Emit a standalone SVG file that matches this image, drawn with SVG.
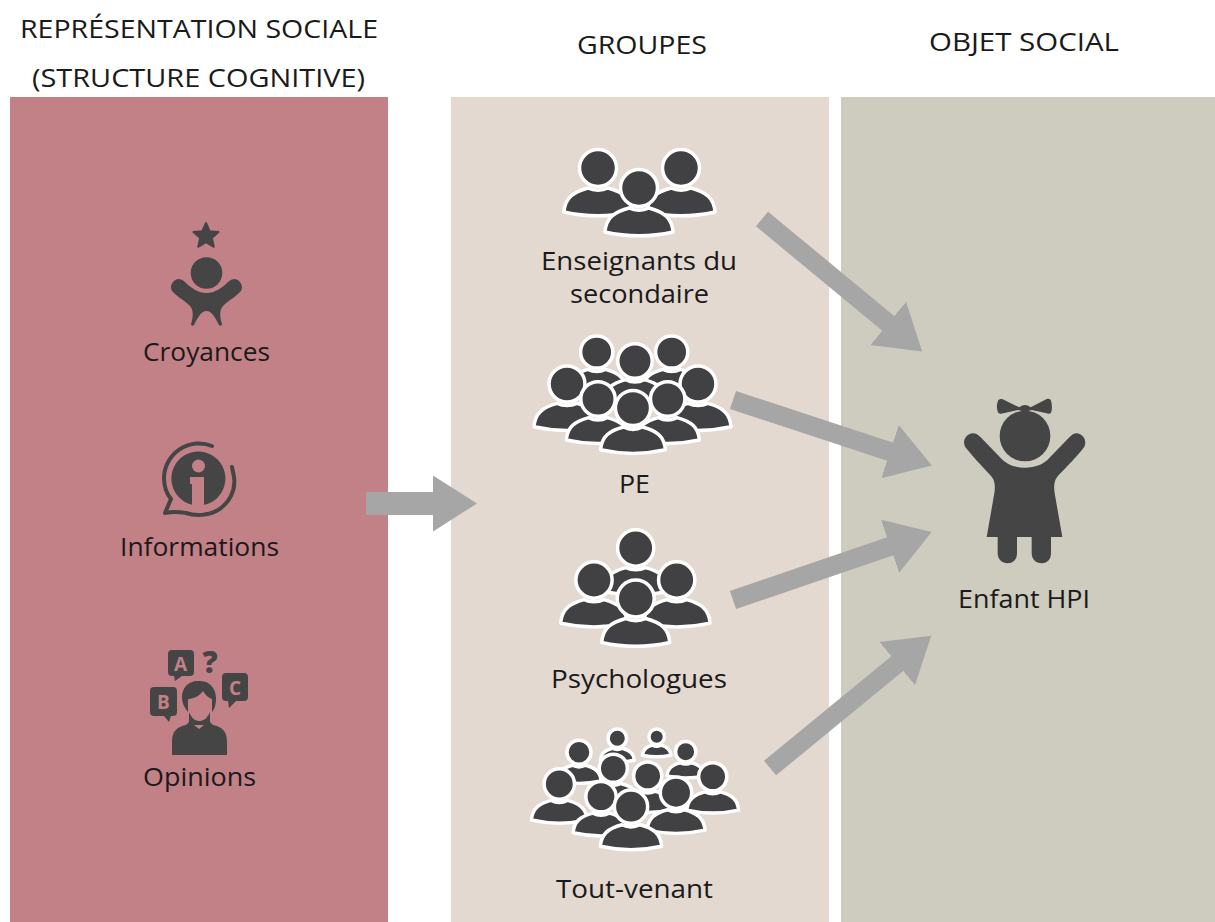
<svg xmlns="http://www.w3.org/2000/svg" width="1215" height="922" viewBox="0 0 1215 922">
<style>
text{font-family:"Open Sans","Noto Sans",sans-serif;font-size:26px;fill:#1a1a1a;dominant-baseline:alphabetic}
.ic{fill:#454545}
.p{fill:#414042;stroke:#fff;stroke-width:3.5px;vector-effect:non-scaling-stroke;stroke-linejoin:round}
.conn{stroke:#a6a6a6;fill:none;stroke-width:19;marker-end:url(#ah)}
.lt{font-family:"Open Sans",sans-serif;font-weight:700;fill:#c28087;font-size:19px;text-anchor:middle}
</style>
<defs>
<marker id="ah" markerUnits="userSpaceOnUse" markerWidth="46" markerHeight="60" refX="1" refY="30" orient="auto"><path d="M0,2L44,30L0,58Z" fill="#a6a6a6"/></marker>
<g id="q"><path class="p" d="M-34,44C-33,30-25,24-10,20C-4,23 4,23 10,20C25,24 33,30 34,44C12,49-12,49-34,44Z"/><circle class="p" r="18.5"/></g>
</defs>
<rect x="10" y="97" width="378" height="825" fill="#c28087"/>
<rect x="451" y="97" width="378" height="825" fill="#e3d9d0"/>
<rect x="841" y="97" width="374" height="825" fill="#cecbbf"/>
<g id="titles">
<text x="20" y="38" textLength="358" lengthAdjust="spacingAndGlyphs">REPRÉSENTATION SOCIALE</text>
<text x="32" y="87" textLength="333" lengthAdjust="spacingAndGlyphs">(STRUCTURE COGNITIVE)</text>
<text x="577" y="54" textLength="130" lengthAdjust="spacingAndGlyphs">GROUPES</text>
<text x="929" y="51" textLength="190" lengthAdjust="spacingAndGlyphs">OBJET SOCIAL</text>
</g>
<g id="connectors">
<path d="M366,503.500H434" class="conn" style="stroke-width:23"/>
<path d="M762,219L889,324" class="conn"/>
<path d="M733,400L891,452" class="conn"/>
<path d="M733,600L891,546" class="conn"/>
<path d="M770,768L898,663" class="conn"/>
</g>
<g id="croyances">
<path class="ic" d="M206,223L209.600,231.200L218.500,232L211.800,238L213.800,246.800L206,242.200L198.200,246.800L200.200,238L193.500,232L202.400,231.200Z" stroke="#454545" stroke-width="2" stroke-linejoin="round"/>
<circle class="ic" cx="206.500" cy="273" r="15.800"/>
<path class="ic" d="M178,279C181,279 183,280 185,282C191,288 198,293 206.500,293C215,293 222,288 228,282C230,280 232,279 235,279C240,280 244,286 241,291C238,295 228,301 223,306C219,310 220,318 222,324C222,326 220,326 219,325C216,319 212,311 206.500,311C201,311 197,319 194,325C193,326 191,326 191,324C193,318 194,310 190,306C185,301 175,295 172,291C169,286 173,280 178,279Z"/>
<text x="143" y="361" textLength="127" lengthAdjust="spacingAndGlyphs">Croyances</text>
</g>
<g id="informations">
<path class="ic" fill-rule="evenodd" d="M198.500,451.500A27,27 0 1 1 175,492A27,27 0 0 1 198.500,451.500Z"/>
<path d="M212,446A35,35 0 0 0 164,478C164,487 166,493 171,499L165,513C175,511 180,512 186,513C195,516 208,516 218,510C229,503 236,491 234,477L232,467" fill="none" stroke="#454545" stroke-width="4" stroke-linecap="round" stroke-linejoin="round"/>
<circle cx="198.500" cy="466" r="6.500" fill="#c28087"/>
<path d="M190,477H204V507H192V484H190Z" fill="#c28087"/>
<text x="120" y="556" textLength="159" lengthAdjust="spacingAndGlyphs">Informations</text>
</g>
<g id="opinions">
<path class="ic" d="M172,650H190Q194,650 194,654V672Q194,676 190,676H182L175,681L174,676H172Q168,676 168,672V654Q168,650 172,650Z"/>
<path class="ic" d="M226,673H244Q248,673 248,677V697Q248,701 244,701H236L229,708L228,701H226Q222,701 222,697V677Q222,673 226,673Z"/>
<path class="ic" d="M154,687H173Q177,687 177,691V712Q177,716 173,716H171L169,722L164,716H154Q150,716 150,712V691Q150,687 154,687Z"/>
<text class="lt" x="180.500" y="671">A</text>
<text class="lt" x="235" y="695">C</text>
<text class="lt" x="163.500" y="709">B</text>
<text x="210" y="673" style="font-family:'Open Sans',sans-serif;font-weight:800;font-size:30px;fill:#454545;text-anchor:middle">?</text>
<path class="ic" d="M198,681C211,680 216,690 216,698C216,706 214,710 212,712V699C209,698 205,695 203,691C199,697 192,699 188,699V712C185,708 182,704 182,697C182,689 187,681 198,681Z"/>
<path class="ic" d="M189,712C192,719 196,721 199,721C203,721 207,719 210,712V722L213,725C222,727 227,731 227,742V755H172V742C172,731 177,727 186,725L189,722Z"/>
<path d="M194,725L199,729L204,725" fill="#c28087"/>
<text x="143" y="786" textLength="113" lengthAdjust="spacingAndGlyphs">Opinions</text>
</g>
<g id="enseignants">
<use href="#q" transform="translate(598,168)"/>
<use href="#q" transform="translate(681,168)"/>
<use href="#q" transform="translate(639,188)"/>
<text x="541" y="270" textLength="196" lengthAdjust="spacingAndGlyphs">Enseignants du</text>
<text x="570" y="303" textLength="139" lengthAdjust="spacingAndGlyphs">secondaire</text>
</g>
<g id="pe">
<use href="#q" transform="translate(596.700,352) scale(.87)"/>
<use href="#q" transform="translate(671.700,352) scale(.87)"/>
<use href="#q" transform="translate(635,361) scale(.93)"/>
<use href="#q" transform="translate(567,384) scale(.97)"/>
<use href="#q" transform="translate(698,384) scale(.97)"/>
<use href="#q" transform="translate(598,399) scale(.93)"/>
<use href="#q" transform="translate(667.700,399) scale(.93)"/>
<use href="#q" transform="translate(633,408) scale(.95)"/>
<text x="619" y="493" textLength="31" lengthAdjust="spacingAndGlyphs">PE</text>
</g>
<g id="psychologues">
<use href="#q" transform="translate(635.700,548) scale(.98)"/>
<use href="#q" transform="translate(594,580) scale(.98)"/>
<use href="#q" transform="translate(676.700,580) scale(.98)"/>
<use href="#q" transform="translate(635.700,598.500) scale(1)"/>
<text x="551" y="688" textLength="176" lengthAdjust="spacingAndGlyphs">Psychologues</text>
</g>
<g id="toutvenant">
<use href="#q" transform="translate(617.300,738.300) scale(.5)"/>
<use href="#q" transform="translate(656.700,736.700) scale(.42)"/>
<use href="#q" transform="translate(579,752.300) scale(.65)"/>
<use href="#q" transform="translate(685.700,751.700) scale(.55)"/>
<use href="#q" transform="translate(613.300,768.300) scale(.76)"/>
<use href="#q" transform="translate(647.700,776) scale(.76)"/>
<use href="#q" transform="translate(712.700,776.700) scale(.76)"/>
<use href="#q" transform="translate(559.300,784) scale(.82)"/>
<use href="#q" transform="translate(601,796.700) scale(.82)"/>
<use href="#q" transform="translate(676,792.700) scale(.85)"/>
<use href="#q" transform="translate(631,806.700) scale(.9)"/>
<text x="556" y="898" textLength="157" lengthAdjust="spacingAndGlyphs">Tout-venant</text>
</g>
<g id="enfant">
<g transform="translate(950,390) scale(.33333)">
<circle class="ic" cx="225" cy="138" r="76"/>
<path class="ic" d="M225,45C232,45 238,48 242,52L290,27C298,24 303,28 304,35C306,47 307,58 303,68C300,72 295,72 290,70L245,60L225,66L205,60L160,70C155,72 148,72 145,68C140,58 139,47 143,35C145,28 150,26 158,28L208,52C212,48 218,45 225,45Z"/>
<path class="ic" d="M68,130C78,130 85,135 92,142L150,202C170,225 195,233 225,233C255,233 280,225 300,202L358,142C365,135 372,130 380,130C398,132 412,150 403,170C390,190 345,235 322,260C312,272 311,290 314,310L337,441H303V490C303,510 290,520 275,520C258,520 245,508 245,490V441H201V490C201,510 188,520 173,520C156,520 143,508 143,490V441H110L133,310C136,290 135,272 125,260C102,235 60,190 45,170C36,150 50,132 68,130Z"/>
</g>
<text x="958" y="608" textLength="132" lengthAdjust="spacingAndGlyphs">Enfant HPI</text>
</g>
</svg>
